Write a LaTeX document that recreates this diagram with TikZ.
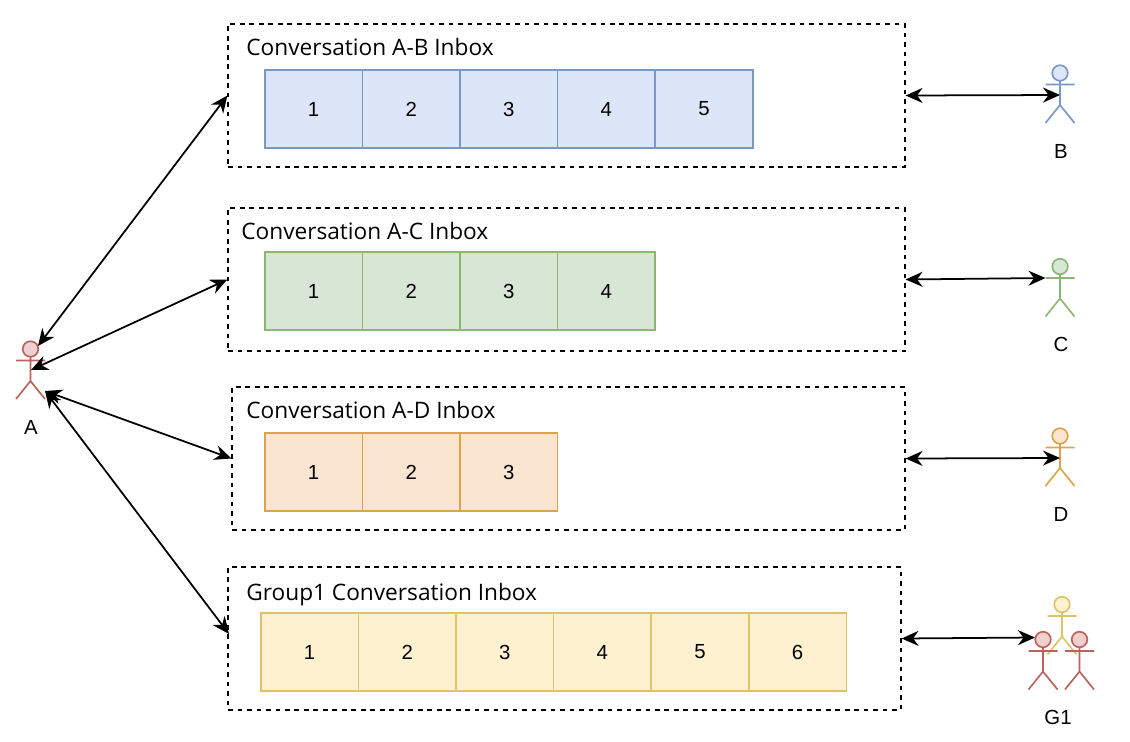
\documentclass[tikz,border=0pt]{standalone}
\usepackage{fontspec}
\setmainfont{Liberation Sans}
\newfontfamily\titlefont{Open Sans}
\usepackage{xcolor}
\usepackage{tikz}
\usetikzlibrary{arrows.meta, positioning}
\definecolor{inboxblue}{HTML}{dce6f8}
\definecolor{inboxbluedark}{HTML}{7b98c4}
\definecolor{inboxgreen}{HTML}{d8e6d6}
\definecolor{inboxgreendark}{HTML}{8cb673}
\definecolor{inboxorange}{HTML}{fae5d0}
\definecolor{inboxorangedark}{HTML}{dca44a}
\definecolor{inboxyellow}{HTML}{fdf1cf}
\definecolor{inboxyellowdark}{HTML}{dfc36a}
\definecolor{inboxred}{HTML}{f0d0ce}
\definecolor{inboxreddark}{HTML}{b9625e}
\tikzset{
  inbox/.style={draw=black, dashed, dash pattern=on 2.7pt off 2.7pt, line width=0.72pt,
                minimum height=2.86cm, inner sep=0pt},
  inboxtitle/.style={font=\titlefont\fontsize{12.9}{15}\selectfont, anchor=base west, inner sep=0pt},
  cell/.style={line width=0.85pt, minimum width=1.952cm, minimum height=1.56cm,
               inner sep=0pt, font=\fontsize{11.6}{13}\selectfont},
  actorname/.style={font=\fontsize{11.6}{13}\selectfont, inner sep=0pt},
  arrow/.style={{Stealth[length=3.4mm,width=3mm]}-{Stealth[length=3.4mm,width=3mm]}, line width=1pt},
  actorblue/.style={draw=inboxbluedark, fill=inboxblue},
  actorgreen/.style={draw=inboxgreendark, fill=inboxgreen},
  actororange/.style={draw=inboxorangedark, fill=inboxorange},
  actoryellow/.style={draw=inboxyellowdark, fill=inboxyellow},
  actorred/.style={draw=inboxreddark, fill=inboxred},
  actor/.pic={
    \path[pic actions, line width=0.95pt] (0,0) circle[radius=7.8];
    \path[pic actions, fill=none, line width=0.95pt] (0,7.8) -- (0,32)
      (-14.5,11.5) -- (14.5,11.5) (-14.5,50) -- (0,32) -- (14.5,50);
    \coordinate (-body) at (0,22);
    \coordinate (-arm) at (-14.5,11.5);
    \coordinate (-head) at (-8,-2);
  }
}

\begin{document}
\begin{tikzpicture}[x=0.02cm,y=-0.02cm]
  \useasboundingbox (0,0) rectangle (1130,741);
  % inboxes
  \node[inbox, minimum width=13.54cm] (ab) at (566.5,95.5) {};
  \node[inbox, minimum width=13.54cm] (ac) at (566.5,279.5) {};
  \node[inbox, minimum width=13.46cm] (ad) at (568.5,458.5) {};
  \node[inbox, minimum width=13.46cm] (gone) at (564.5,638.5) {};
  \node[inboxtitle] (abtitle) at (246,55) {Conversation A-B Inbox};
  \node[inboxtitle] (actitle) at (241,239) {Conversation A-C Inbox};
  \node[inboxtitle] (adtitle) at (246,418) {Conversation A-D Inbox};
  \node[inboxtitle] (gonetitle) at (246,600) {Group1 Conversation Inbox};
  \foreach \i in {1,...,5}
    \node[cell, draw=inboxbluedark, fill=inboxblue] (ab\i) at ({313.6+97.6*(\i-1)},109) {\i};
  \foreach \i in {1,...,4}
    \node[cell, draw=inboxgreendark, fill=inboxgreen] (ac\i) at ({313.6+97.6*(\i-1)},291) {\i};
  \foreach \i in {1,...,3}
    \node[cell, draw=inboxorangedark, fill=inboxorange] (ad\i) at ({313.6+97.6*(\i-1)},472) {\i};
  \foreach \i in {1,...,6}
    \node[cell, draw=inboxyellowdark, fill=inboxyellow] (gone\i) at ({309.6+97.6*(\i-1)},652) {\i};
  % actors
  \pic[actorred] (acta) at (30.5,349) {actor};
  \pic[actorblue] (actb) at (1060,73) {actor};
  \pic[actorgreen] (actc) at (1060,266.5) {actor};
  \pic[actororange] (actd) at (1060,436) {actor};
  \pic[actoryellow] (actgy) at (1062,604.5) {actor};
  \pic[actorred] (actgl) at (1043,639.5) {actor};
  \pic[actorred] (actgr) at (1079.5,639.5) {actor};
  \node[actorname] (namea) at (31,427) {A};
  \node[actorname] (nameb) at (1061,151) {B};
  \node[actorname] (namec) at (1061,344) {C};
  \node[actorname] (named) at (1061,514) {D};
  \node[actorname] (nameg) at (1058,717) {G1};
  \coordinate (atop) at (38,346);
  \coordinate (amid) at (31,370);
  \coordinate (alow) at (45,391);
  \coordinate (gonein) at (229,634);
  % connectors
  \draw[arrow] (atop) -- (ab.west);
  \draw[arrow] (amid) -- (ac.west);
  \draw[arrow] (alow) -- (ad.west);
  \draw[arrow] (alow) -- (gonein);
  \draw[arrow] (ab.east) -- (actb-body);
  \draw[arrow] (ac.east) -- (actc-arm);
  \draw[arrow] (ad.east) -- (actd-body);
  \draw[arrow] (gone.east) -- (actgl-head);
\end{tikzpicture}
\end{document}
